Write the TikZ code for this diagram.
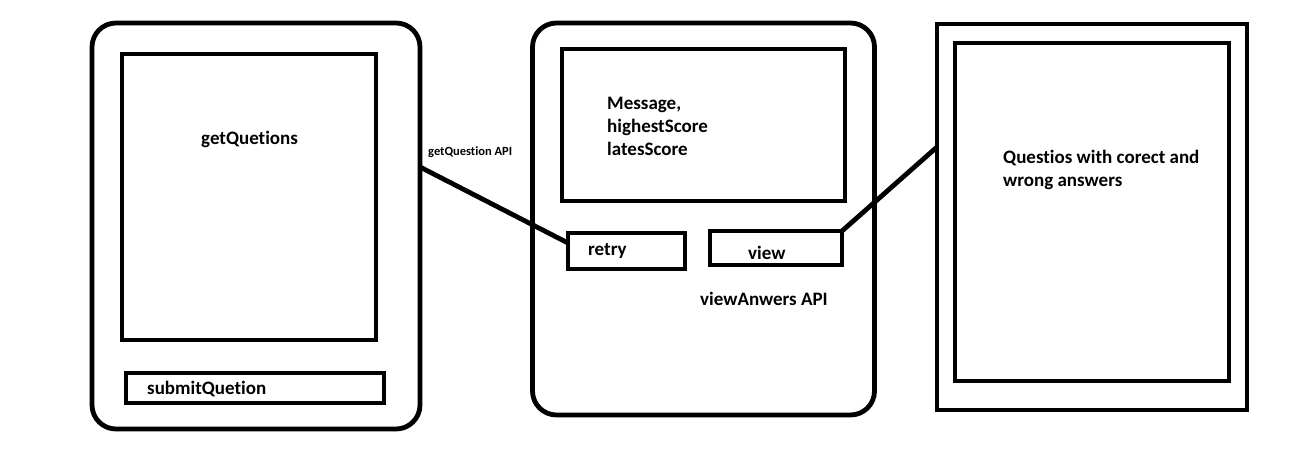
\documentclass[tikz,border=0pt]{standalone}
\usepackage{fontspec}
\setmainfont{Carlito}[Ligatures=NoCommon]
\usetikzlibrary{calc}

\begin{document}
\begin{tikzpicture}[x=1pt,y=-1pt,font=\bfseries\fontsize{19}{23}\selectfont,
  box/.style={draw,line width=4.8pt,inner sep=0pt,outer sep=0pt},
  frame/.style={box,rounded corners=24pt},
  txt/.style={anchor=west,inner sep=0pt,align=left},
  conn/.style={line width=4.8pt}]
  \useasboundingbox (0,0) rectangle (1297,460);
  % three screens: questions, result, answers
  \node[frame,minimum width=328pt,minimum height=406pt] (leftframe) at (256,226) {};
  \node[box,minimum width=254pt,minimum height=286pt] (getbox) at (249,197) {};
  \node[box,minimum width=258pt,minimum height=30pt] (submitbox) at (255,388) {};
  \node[txt] (gettxt) at (201,139) {getQuetions};
  \node[txt] (submittxt) at (147,389) {submitQuetion};

  \node[frame,minimum width=342pt,minimum height=392pt] (midframe) at (703.5,219) {};
  \node[box,minimum width=283pt,minimum height=152pt] (msgbox) at (703.5,125) {};
  \node[box,minimum width=117pt,minimum height=36pt] (retrybox) at (626.5,251) {};
  \node[box,minimum width=132pt,minimum height=34pt] (viewbox) at (776,248) {};
  \node[txt] (msgtxt) at (607,126) {Message,\\highestScore\\latesScore};
  \node[txt] (retrytxt) at (588,251) {retry};
  \node[txt] (viewtxt) at (748,253) {view};
  \node[txt] (viewapi) at (700,299) {viewAnwers API};

  \node[box,minimum width=310pt,minimum height=386pt] (ansframe) at (1092,217) {};
  \node[box,minimum width=274pt,minimum height=338pt] (ansinner) at (1092,212) {};
  \node[txt] (anstxt) at (1003,169.5) {Questios with corect and\\wrong answers};

  % api calls
  \node[txt,font=\bfseries\fontsize{12.5}{15}\selectfont] (getapi) at (428,152) {getQuestion API};
  \draw[conn] ($(leftframe.east)+(0,-59)$) -- ($(retrybox.west)+(0,-8)$);
  \draw[conn] (viewbox.north east) -- ($(ansframe.west)+(0,-70)$);
\end{tikzpicture}
\end{document}
